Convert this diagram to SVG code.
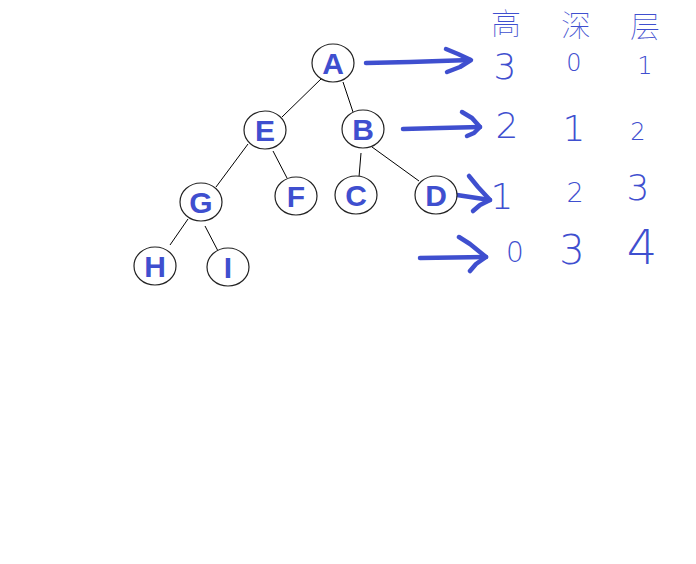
<svg xmlns="http://www.w3.org/2000/svg" width="696" height="564" viewBox="0 0 696 564">
<style>
.node ellipse{fill:#fff;stroke:#222;stroke-width:1.2}
.node text{font-family:"Liberation Sans",Arial,sans-serif;font-weight:bold;font-size:30px;fill:#3f4fcf;text-anchor:middle;dominant-baseline:central}
.edge{stroke:#000;stroke-width:1;fill:none}
.arrow{stroke:#3f4fcf;stroke-width:4.5;fill:none;stroke-linecap:round;stroke-linejoin:round}
.tbl{font-family:"DejaVu Sans","Noto Sans CJK SC",sans-serif;font-weight:200;fill:#3f4fcf;text-anchor:middle;dominant-baseline:central}
.hdr{font-family:"Noto Sans CJK SC",sans-serif;font-weight:100;font-size:30px;fill:#3f4fcf;text-anchor:middle;dominant-baseline:central}
</style>
<rect width="696" height="564" fill="#fff"/>
<g id="connectors">
<line class="edge" x1="322" y1="78" x2="282" y2="117"/>
<line class="edge" x1="343" y1="82" x2="353" y2="112"/>
<line class="edge" x1="248" y1="144" x2="216" y2="187"/>
<line class="edge" x1="273" y1="151" x2="287" y2="178"/>
<line class="edge" x1="361" y1="153" x2="359" y2="177"/>
<line class="edge" x1="372" y1="147" x2="419" y2="181"/>
<line class="edge" x1="188" y1="219" x2="170" y2="245"/>
<line class="edge" x1="205" y1="226" x2="218" y2="251"/>
</g>
<g id="arrows">
<path class="arrow" d="M366,63 L410,62 L470,60"/>
<path class="arrow" d="M446,49 L458,54 L471,60 L460,67 L447,72"/>
<path class="arrow" d="M403,129 L440,128 L480,127"/>
<path class="arrow" d="M462,112 L472,118 L480,127 L474,133 L467,136"/>
<path class="arrow" d="M457,195 L490,200"/>
<path class="arrow" d="M469,176 L478,187 L490,200 L480,205 L473,211"/>
<path class="arrow" d="M420,258 L486,257"/>
<path class="arrow" d="M459,237 L470,244 L486,257 L476,264 L470,271"/>
</g>
<g id="node-A" class="node"><ellipse cx="333" cy="63" rx="21" ry="19"/><text x="333" y="63">A</text></g>
<g id="node-E" class="node"><ellipse cx="265" cy="130" rx="21" ry="19"/><text x="265" y="130">E</text></g>
<g id="node-B" class="node"><ellipse cx="363" cy="129" rx="21" ry="19"/><text x="363" y="129">B</text></g>
<g id="node-G" class="node"><ellipse cx="201" cy="202" rx="21" ry="19"/><text x="201" y="202">G</text></g>
<g id="node-F" class="node"><ellipse cx="296" cy="196" rx="21" ry="19"/><text x="296" y="196">F</text></g>
<g id="node-C" class="node"><ellipse cx="356" cy="195" rx="21" ry="19"/><text x="356" y="195">C</text></g>
<g id="node-D" class="node"><ellipse cx="436" cy="195" rx="21" ry="19"/><text x="436" y="195">D</text></g>
<g id="node-H" class="node"><ellipse cx="155" cy="266" rx="21" ry="19"/><text x="155" y="266">H</text></g>
<g id="node-I" class="node"><ellipse cx="228" cy="267" rx="21" ry="19"/><text x="228" y="267">I</text></g>
<g id="table">
<text class="hdr" x="506" y="21">高</text>
<text class="hdr" x="576" y="23">深</text>
<text class="hdr" x="645" y="24">层</text>
<text class="tbl" x="505" y="66" font-size="36">3</text>
<text class="tbl" x="574" y="63" font-size="24">0</text>
<text class="tbl" x="645" y="66" font-size="24">1</text>
<text class="tbl" x="507" y="125" font-size="36">2</text>
<text class="tbl" x="574" y="128" font-size="36">1</text>
<text class="tbl" x="638" y="132" font-size="24">2</text>
<text class="tbl" x="502" y="196" font-size="36">1</text>
<text class="tbl" x="575" y="192" font-size="27">2</text>
<text class="tbl" x="638" y="187" font-size="36">3</text>
<text class="tbl" x="515" y="252" font-size="28">0</text>
<text class="tbl" x="572" y="250" font-size="40">3</text>
<text class="tbl" x="642" y="247" font-size="48">4</text>
</g>
</svg>
